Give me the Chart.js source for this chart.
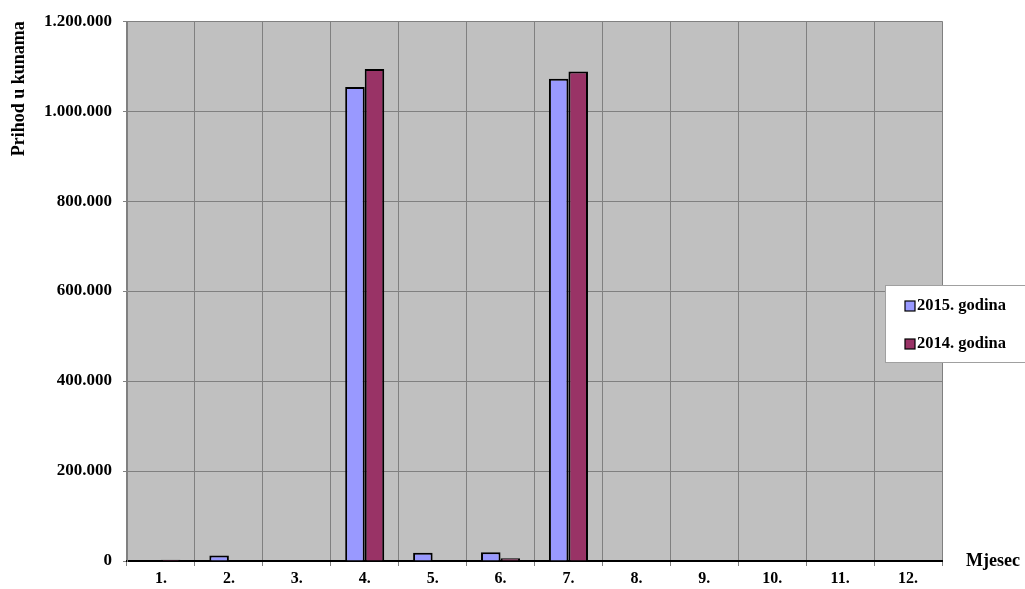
<!DOCTYPE html>
<html>
<head>
<meta charset="utf-8">
<script src="https://cdn.jsdelivr.net/npm/chart.js@4/dist/chart.umd.min.js"></script>
<style>
  body { margin: 0; background: #fff; }
  canvas { display: block; }
</style>
</head>
<body>
<canvas id="chart" width="1025" height="589"></canvas>
<script>
'use strict'

const months = ['1.', '2.', '3.', '4.', '5.', '6.', '7.', '8.', '9.', '10.', '11.', '12.']
const prihod2015 = [null, 12000, null, 1054000, 18500, 19500, 1072000, null, null, null, null, null]
const prihod2014 = [3000, null, null, 1094000, null, 6000, 1088000, null, null, null, null, null]
const seriesNames = ['2015. godina', '2014. godina']
const yTicks = [0, 200000, 400000, 600000, 800000, 1000000, 1200000]

const FONT = '"Liberation Serif", "Times New Roman", serif'

function formatHr(v) {
    return String(v).replace(/\B(?=(\d{3})+(?!\d))/g, '.')
}

// siva pozadina podrucja grafa
const plotBg = {
    id: 'plotBg',
    beforeDraw(chart) {
        const a = chart.chartArea
        const ctx = chart.ctx
        ctx.save()
        ctx.fillStyle = '#c0c0c0'
        ctx.fillRect(a.left, a.top, a.right - a.left, a.bottom - a.top)
        ctx.restore()
    }
}

// legenda + naslov x osi desno od osi
const extras = {
    id: 'extras',
    afterDraw(chart) {
        const ctx = chart.ctx
        const a = chart.chartArea
        ctx.save()
        ctx.fillStyle = '#000'
        ctx.font = 'bold 18px ' + FONT
        ctx.textBaseline = 'middle'
        ctx.textAlign = 'left'
        ctx.fillText('Mjesec', 966, a.bottom)

        ctx.fillStyle = '#fff'
        ctx.fillRect(885, 285, 145, 78)
        ctx.strokeStyle = '#a0a0a0'
        ctx.lineWidth = 1
        ctx.strokeRect(885.5, 285.5, 145, 77)

        ctx.font = 'bold 16.5px ' + FONT
        chart.data.datasets.forEach((ds, i) => {
            const y = 301 + i * 38
            ctx.fillStyle = ds.backgroundColor
            ctx.fillRect(905, y, 10, 10)
            ctx.strokeStyle = '#000'
            ctx.lineWidth = 1.2
            ctx.strokeRect(905, y, 10, 10)
            ctx.fillStyle = '#000'
            ctx.fillText(ds.label, 917, y + 5)
        })
        ctx.restore()
    }
}

new Chart(document.querySelector('#chart').getContext('2d'), {
    type: 'bar',
    data: {
        labels: months,
        datasets: [{
            label: seriesNames[0],
            data: prihod2015,
            backgroundColor: '#9999ff',
            borderColor: '#000',
            borderWidth: 2
        }, {
            label: seriesNames[1],
            data: prihod2014,
            backgroundColor: '#993366',
            borderColor: '#000',
            borderWidth: 2
        }]
    },
    options: {
        responsive: false,
        animation: false,
        categoryPercentage: 0.575,
        barPercentage: 1,
        layout: { padding: { top: 20, right: 83, left: 0, bottom: 0 } },
        plugins: {
            legend: { display: false },
            tooltip: { enabled: false }
        },
        scales: {
            x: {
                offset: true,
                grid: { offset: true, color: '#808080', tickLength: 5, tickColor: '#808080' },
                border: { color: '#000', width: 2 },
                ticks: { color: '#000', padding: 3, font: { family: FONT, size: 16, weight: 'bold' } },
                afterFit(scale) { scale.height = 28 }
            },
            y: {
                min: 0,
                max: 1200000,
                afterBuildTicks(scale) { scale.ticks = yTicks.map(v => ({ value: v })) },
                grid: { color: '#808080', tickLength: 4, tickColor: '#808080' },
                border: { color: '#808080' },
                ticks: {
                    color: '#000',
                    padding: 11,
                    font: { family: FONT, size: 17, weight: 'bold' },
                    callback: v => formatHr(v)
                },
                title: {
                    display: true,
                    text: 'Prihod u kunama',
                    align: 'end',
                    color: '#000',
                    padding: { top: 9, bottom: 0 },
                    font: { family: FONT, size: 18, weight: 'bold' }
                },
                afterFit(scale) { scale.width = 127 }
            }
        }
    },
    plugins: [plotBg, extras]
})
</script>
</body>
</html>
